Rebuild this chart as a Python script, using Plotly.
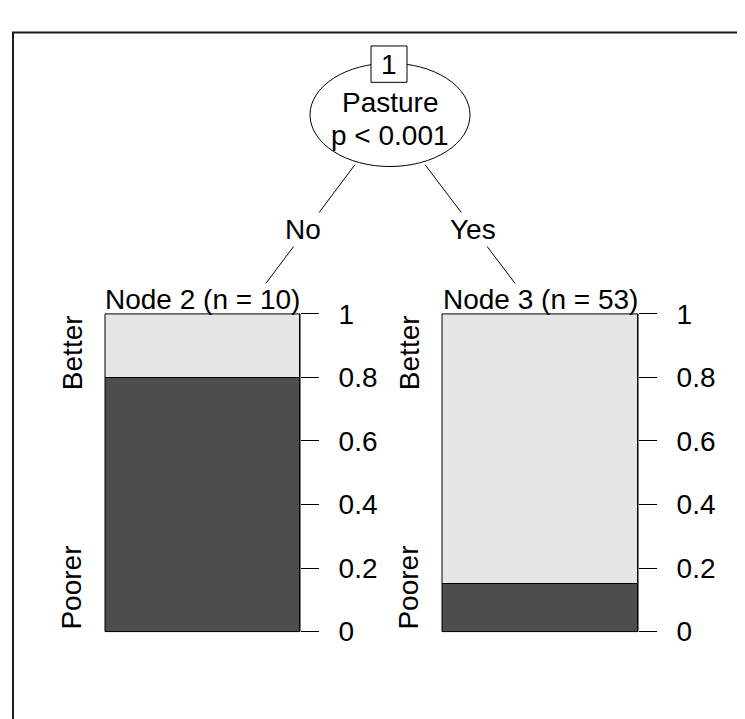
import plotly.graph_objects as go

# ---- data ----
node_titles = ["Node 2 (n = 10)", "Node 3 (n = 53)"]
class_labels = ["Poorer", "Better"]
poorer_share = [0.8, 0.15]
better_share = [0.2, 0.85]
tick_vals = [0, 0.2, 0.4, 0.6, 0.8, 1]
tick_text = ["0", "0.2", "0.4", "0.6", "0.8", "1"]
split_var = "Pasture"
split_p = "p < 0.001"
edge_labels = ["No", "Yes"]
root_id = "1"

W, H = 745, 719
FONT = "Liberation Sans, Arial, sans-serif"
DARK = "#4D4D4D"
LIGHT = "#E6E6E6"


def px(x):
    return x / W


def py(y):
    return 1 - y / H


fig = go.Figure()

panels = [(97, 292), (434, 630)]
box_top, box_bot = 304, 636

for i in range(2):
    ax = "" if i == 0 else str(i + 1)
    fig.add_trace(go.Bar(x=[0], y=[poorer_share[i]], width=1,
                         marker=dict(color=DARK, line=dict(color="black", width=1)),
                         xaxis="x" + ax, yaxis="y" + ax, showlegend=False,
                         hoverinfo="skip"))
    fig.add_trace(go.Bar(x=[0], y=[better_share[i]], width=1,
                         marker=dict(color=LIGHT, line=dict(color="black", width=1)),
                         xaxis="x" + ax, yaxis="y" + ax, showlegend=False,
                         hoverinfo="skip"))
    x0, x1 = panels[i]
    fig.update_layout(**{
        "xaxis" + ax: dict(domain=[px(x0), px(x1)], range=[-0.5, 0.5],
                            showticklabels=False, ticks="", showgrid=False,
                            zeroline=False, showline=False, fixedrange=True),
        "yaxis" + ax: dict(domain=[py(box_bot), py(box_top)], range=[0, 1],
                            anchor="x" + ax, side="right", ticks="outside",
                            ticklen=18, tickwidth=1, tickcolor="black",
                            tickvals=tick_vals, ticktext=tick_text,
                            ticklabelstandoff=14,
                            tickfont=dict(family=FONT, size=28, color="black"),
                            showgrid=False, zeroline=False, showline=False,
                            fixedrange=True),
    })
    if i == 1:
        fig.layout["xaxis2"].anchor = "y2"
    # box border
    fig.add_shape(type="rect", xref="x" + ax + " domain", yref="y" + ax + " domain",
                  x0=0, x1=1, y0=0, y1=1, line=dict(color="black", width=1),
                  fillcolor="rgba(0,0,0,0)", layer="above")
    cx = (x0 + x1) / 2
    fig.add_annotation(x=px(cx), y=py(289), xref="paper", yref="paper",
                       text=node_titles[i], showarrow=False,
                       font=dict(family=FONT, size=28, color="black"),
                       xanchor="center", yanchor="middle")
    lx = x0 - 33
    fig.add_annotation(x=px(lx), y=py(345), xref="paper", yref="paper",
                       text=class_labels[1], showarrow=False, textangle=-90,
                       font=dict(family=FONT, size=28, color="black"),
                       xanchor="center", yanchor="middle")
    fig.add_annotation(x=px(lx), y=py(590), xref="paper", yref="paper",
                       text=class_labels[0], showarrow=False, textangle=-90,
                       font=dict(family=FONT, size=28, color="black"),
                       xanchor="center", yanchor="middle")

# outer frame
fig.add_shape(type="rect", xref="paper", yref="paper",
              x0=px(5), x1=px(760), y0=py(10), y1=py(740),
              line=dict(color="#1a1a1a", width=2), fillcolor="rgba(0,0,0,0)")

# edges
fig.add_shape(type="line", xref="paper", yref="paper",
              x0=px(347), y0=py(148), x1=px(258), y1=py(272),
              line=dict(color="black", width=1))
fig.add_shape(type="line", xref="paper", yref="paper",
              x0=px(417), y0=py(148), x1=px(507), y1=py(272),
              line=dict(color="black", width=1))

# root ellipse
fig.add_shape(type="circle", xref="paper", yref="paper",
              x0=px(302), x1=px(462), y0=py(42), y1=py(150),
              line=dict(color="black", width=1), fillcolor="white")

# root id box
fig.add_shape(type="rect", xref="paper", yref="paper",
              x0=px(363), x1=px(399), y0=py(24), y1=py(62),
              line=dict(color="black", width=1), fillcolor="white")
fig.add_annotation(x=px(381), y=py(43), xref="paper", yref="paper",
                   text=root_id, showarrow=False,
                   font=dict(family=FONT, size=28, color="black"),
                   xanchor="center", yanchor="middle")
fig.add_annotation(x=px(382), y=py(83), xref="paper", yref="paper",
                   text=split_var, showarrow=False,
                   font=dict(family=FONT, size=28, color="black"),
                   xanchor="center", yanchor="middle")
fig.add_annotation(x=px(382), y=py(118), xref="paper", yref="paper",
                   text=split_p, showarrow=False,
                   font=dict(family=FONT, size=28, color="black"),
                   xanchor="center", yanchor="middle")

# edge labels
for lbl, ex in zip(edge_labels, [295, 465]):
    fig.add_annotation(x=px(ex), y=py(216), xref="paper", yref="paper",
                       text=lbl, showarrow=False, bgcolor="white",
                       font=dict(family=FONT, size=28, color="black"),
                       xanchor="center", yanchor="middle")

fig.update_layout(width=W, height=H, margin=dict(l=0, r=0, t=0, b=0),
                  paper_bgcolor="white", plot_bgcolor="white",
                  barmode="stack", bargap=0, showlegend=False)

fig.write_html("out.html")
